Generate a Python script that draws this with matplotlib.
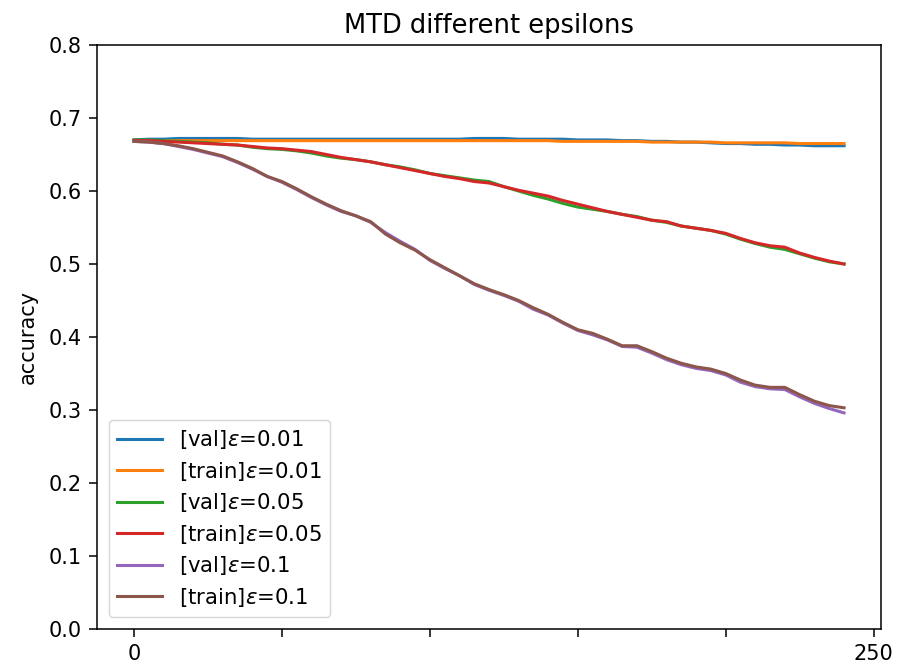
import matplotlib
matplotlib.use("Agg")
import matplotlib.pyplot as plt

epochs = [0, 5, 10, 15, 20, 25, 30, 35, 40, 45, 50, 55, 60, 65, 70, 75, 80, 85, 90, 95,
          100, 105, 110, 115, 120, 125, 130, 135, 140, 145, 150, 155, 160, 165, 170, 175,
          180, 185, 190, 195, 200, 205, 210, 215, 220, 225, 230, 235, 240]

val_001 = [0.670, 0.671, 0.671, 0.672, 0.672, 0.672, 0.672, 0.672, 0.671, 0.671, 0.671, 0.671,
           0.671, 0.671, 0.671, 0.671, 0.671, 0.671, 0.671, 0.671, 0.671, 0.671, 0.671, 0.672,
           0.672, 0.672, 0.671, 0.671, 0.671, 0.671, 0.670, 0.670, 0.670, 0.669, 0.669, 0.668,
           0.668, 0.667, 0.667, 0.666, 0.665, 0.665, 0.664, 0.664, 0.663, 0.663, 0.662, 0.662, 0.662]
train_001 = [0.669, 0.669, 0.669, 0.669, 0.669, 0.669, 0.669, 0.669, 0.669, 0.669, 0.669, 0.669,
             0.669, 0.669, 0.669, 0.669, 0.669, 0.669, 0.669, 0.669, 0.669, 0.669, 0.669, 0.669,
             0.669, 0.669, 0.669, 0.669, 0.669, 0.668, 0.668, 0.668, 0.668, 0.668, 0.668, 0.667,
             0.667, 0.667, 0.667, 0.667, 0.666, 0.666, 0.666, 0.666, 0.666, 0.665, 0.665, 0.665, 0.665]
val_005 = [0.670, 0.670, 0.669, 0.668, 0.667, 0.666, 0.664, 0.663, 0.660, 0.658, 0.657, 0.655,
           0.652, 0.648, 0.645, 0.643, 0.640, 0.636, 0.633, 0.629, 0.624, 0.621, 0.618, 0.615,
           0.613, 0.606, 0.600, 0.594, 0.589, 0.583, 0.578, 0.575, 0.572, 0.568, 0.565, 0.560,
           0.557, 0.552, 0.549, 0.546, 0.541, 0.534, 0.528, 0.523, 0.520, 0.514, 0.508, 0.503, 0.500]
train_005 = [0.669, 0.669, 0.668, 0.667, 0.666, 0.665, 0.664, 0.663, 0.661, 0.659, 0.658, 0.656,
             0.654, 0.650, 0.646, 0.643, 0.640, 0.636, 0.632, 0.628, 0.624, 0.620, 0.617, 0.613,
             0.611, 0.606, 0.601, 0.597, 0.593, 0.587, 0.582, 0.577, 0.572, 0.568, 0.564, 0.560,
             0.558, 0.552, 0.549, 0.546, 0.542, 0.535, 0.529, 0.525, 0.523, 0.515, 0.509, 0.504, 0.500]
val_01 = [0.668, 0.667, 0.665, 0.661, 0.657, 0.652, 0.647, 0.639, 0.630, 0.620, 0.612, 0.602,
          0.591, 0.581, 0.572, 0.566, 0.557, 0.543, 0.531, 0.520, 0.505, 0.494, 0.484, 0.472,
          0.464, 0.457, 0.449, 0.438, 0.430, 0.419, 0.409, 0.403, 0.396, 0.387, 0.386, 0.378,
          0.369, 0.362, 0.357, 0.354, 0.348, 0.338, 0.332, 0.329, 0.328, 0.318, 0.309, 0.302, 0.296]
train_01 = [0.668, 0.667, 0.665, 0.662, 0.658, 0.653, 0.648, 0.640, 0.631, 0.620, 0.613, 0.603,
            0.592, 0.582, 0.573, 0.566, 0.558, 0.541, 0.529, 0.519, 0.506, 0.495, 0.484, 0.473,
            0.465, 0.458, 0.450, 0.440, 0.431, 0.420, 0.410, 0.405, 0.397, 0.388, 0.388, 0.380,
            0.371, 0.364, 0.359, 0.356, 0.350, 0.341, 0.334, 0.331, 0.331, 0.321, 0.312, 0.306, 0.303]

series = [
    (r"[val]$\varepsilon$=0.01", val_001),
    (r"[train]$\varepsilon$=0.01", train_001),
    (r"[val]$\varepsilon$=0.05", val_005),
    (r"[train]$\varepsilon$=0.05", train_005),
    (r"[val]$\varepsilon$=0.1", val_01),
    (r"[train]$\varepsilon$=0.1", train_01),
]
xtick_vals = [0, 50, 100, 150, 200, 250]
xtick_labels = ["0", "", "", "", "", "250"]

fig = plt.figure(figsize=(9.04, 6.66), dpi=100)
ax = fig.add_axes([0.1073, 0.0556, 0.8673, 0.8768])
for label, vals in series:
    ax.plot(epochs, vals, label=label, linewidth=2.2)

ax.set_xlim(-12.5, 252.5)
ax.set_ylim(0.0, 0.8)
ax.set_xticks(xtick_vals)
ax.set_xticklabels(xtick_labels)
ax.tick_params(labelsize=15, length=6, width=1.1, pad=5)
for s in ax.spines.values():
    s.set_linewidth(1.1)
ax.set_ylabel("accuracy", fontsize=15, labelpad=8)
ax.set_title("MTD different epsilons", fontsize=18.5, pad=9)
ax.legend(loc="lower left", fontsize=15.3, handlelength=2.1,
          borderaxespad=0.55, labelspacing=0.4)

fig.savefig("out.png", dpi=100)
